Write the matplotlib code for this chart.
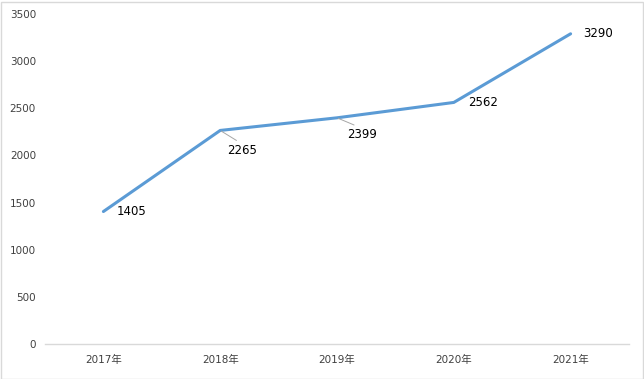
import matplotlib
matplotlib.use("Agg")
import matplotlib.pyplot as plt
from matplotlib.patches import Rectangle

plt.rcParams['font.family'] = ['DejaVu Sans', 'Noto Sans CJK SC']

# data
years = ['2017年', '2018年', '2019年', '2020年', '2021年']
values = [1405, 2265, 2399, 2562, 3290]

# label offsets in pixels (dx, dy) and whether a leader line is drawn
label_offsets = [(13, 0), (7, -20), (10, -17), (14, 0), (13, 0)]
leaders = [False, True, True, False, False]

fig = plt.figure(figsize=(6.44, 3.79), dpi=100)
ax = fig.add_axes([45 / 644, 35 / 379, 584 / 644, 330 / 379])

x = list(range(len(years)))
ax.plot(x, values, color='#5B9BD5', linewidth=2.2, solid_capstyle='round', zorder=3)

for xi, v, (dx, dy), lead in zip(x, values, label_offsets, leaders):
    kw = {}
    if lead:
        kw['arrowprops'] = dict(arrowstyle='-', color='#A6A6A6', lw=0.7,
                                shrinkA=1, shrinkB=1, relpos=(0.5, 1))
    ax.annotate(str(v), xy=(xi, v), xytext=(dx, dy), textcoords='offset pixels',
                ha='left', va='center', fontsize=8.5, color='#000000', **kw)

ax.set_xlim(-0.5, len(years) - 0.5)
ax.set_ylim(0, 3500)
ax.set_yticks(range(0, 3501, 500))
ax.set_xticks(x)
ax.set_xticklabels(years)
ax.tick_params(axis='both', length=0, labelsize=7.5, colors='#404040')
ax.tick_params(axis='y', pad=6.5)
ax.tick_params(axis='x', pad=8)

for s in ['top', 'right', 'left']:
    ax.spines[s].set_visible(False)
ax.spines['bottom'].set_color('#D9D9D9')
ax.spines['bottom'].set_linewidth(1)

# chart border
fig.patches.append(Rectangle((0.5 / 644, 0.5 / 379), 642 / 644, 377 / 379,
                             transform=fig.transFigure, fill=False,
                             edgecolor='#D9D9D9', linewidth=1))

fig.savefig('out.png', dpi=100)
